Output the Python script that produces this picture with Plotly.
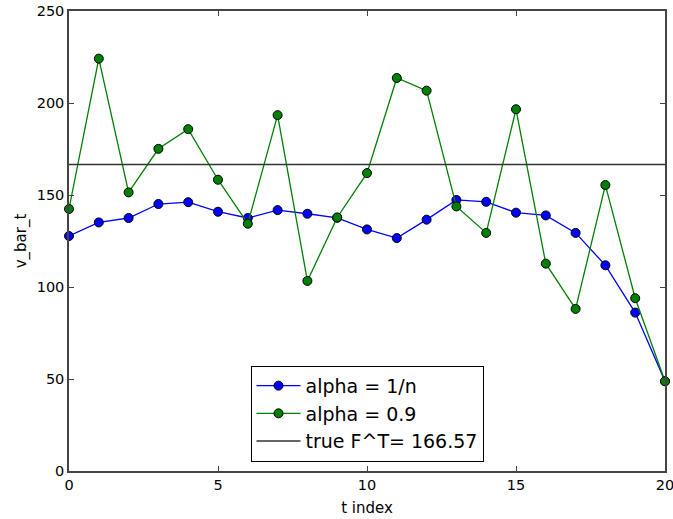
import plotly.graph_objects as go

# Estimates of v_bar over time for two step-size schemes
t_index = list(range(21))
v_alpha_1n = [127.7, 135.1, 137.5, 145.1, 146.1, 140.9, 137.5, 141.8, 139.8, 137.6,
              131.3, 126.6, 136.6, 147.3, 146.3, 140.4, 138.9, 129.4, 111.8, 86.1, 48.8]
v_alpha_09 = [142.4, 224.1, 151.4, 175.1, 185.8, 158.3, 134.4, 193.4, 103.3, 137.8,
              161.9, 213.6, 206.7, 143.8, 129.4, 196.6, 112.7, 88.1, 155.4, 93.9, 48.8]
true_value = 166.57

x_ticks = [0, 5, 10, 15, 20]
y_ticks = [0, 50, 100, 150, 200, 250]

font_family = "DejaVu Sans"

fig = go.Figure()

fig.add_trace(go.Scatter(
    x=t_index, y=v_alpha_1n, mode="lines+markers", name="alpha = 1/n",
    legendgroup="a",
    line=dict(color="#0000ff", width=1.3),
    marker=dict(color="#0000ff", size=9, line=dict(color="black", width=1)),
    cliponaxis=False,
))
fig.add_trace(go.Scatter(
    x=t_index, y=v_alpha_09, mode="lines+markers", name="alpha = 0.9",
    legendgroup="b",
    line=dict(color="#008000", width=1.3),
    marker=dict(color="#008000", size=9, line=dict(color="black", width=1)),
    cliponaxis=False,
))
fig.add_trace(go.Scatter(
    x=[t_index[0], t_index[-1]], y=[true_value, true_value], mode="lines",
    name=f"true F^T= {true_value}",
    legendgroup="c",
    line=dict(color="#333333", width=1.5),
))

axis_common = dict(
    showgrid=False, zeroline=False, showline=True, linecolor="#444444", linewidth=1.5,
    mirror="ticks", ticks="inside", ticklen=5, tickwidth=1, tickcolor="#444444",
    tickfont=dict(family=font_family, size=14.5, color="black"),
    automargin=False, ticklabeloverflow="allow",
)

fig.update_xaxes(range=[0, 20], tickvals=x_ticks,
                 title=dict(text="t index", font=dict(family=font_family, size=15, color="black"),
                            standoff=10),
                 **axis_common)
fig.update_yaxes(range=[0, 250], tickvals=y_ticks,
                 title=dict(text="v_bar_t", font=dict(family=font_family, size=15, color="black"),
                            standoff=6),
                 **axis_common)

fig.update_layout(
    width=673, height=519,
    margin=dict(l=69, r=8, t=11, b=48),
    plot_bgcolor="white", paper_bgcolor="white",
    font=dict(family=font_family, color="black"),
    showlegend=True,
    legend=dict(
        x=0.5, xanchor="center", y=0.02, yanchor="bottom",
        bordercolor="black", borderwidth=1, bgcolor="white",
        font=dict(family=font_family, size=19, color="black"),
        itemwidth=44, tracegroupgap=0,
    ),
)

fig.write_html("out.html")
